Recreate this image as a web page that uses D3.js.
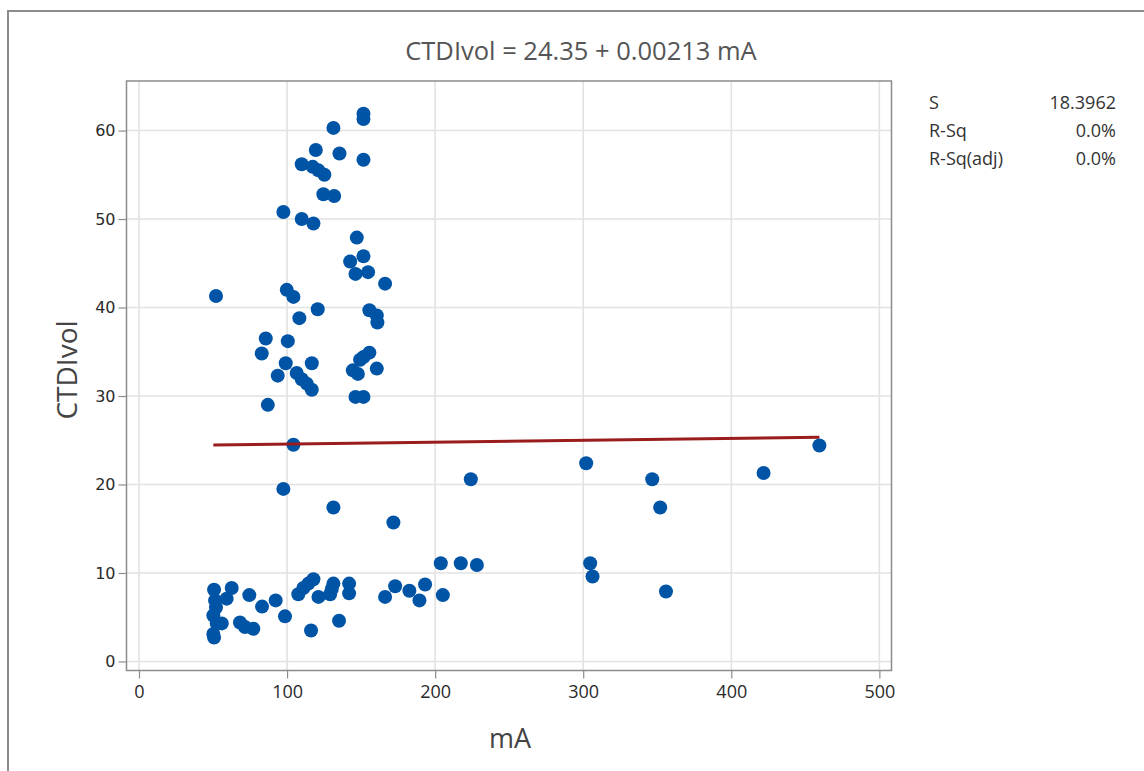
<!DOCTYPE html>
<html>
<head>
<meta charset="utf-8">
<script src="https://cdn.jsdelivr.net/npm/d3@7/dist/d3.min.js"></script>
<style>
  html, body { margin: 0; padding: 0; background: #fff; }
  svg { display: block; font-family: "Open Sans", "Noto Sans", sans-serif; }
</style>
</head>
<body>
<svg id="chart" width="1144" height="771"></svg>
<script>
// Tube current (mA) for each scan
const mA = [
  151.6, 151.6, 131.3, 119.4, 135.4, 151.6, 109.9, 117.3, 121.2, 125.2,
  124.5, 131.8, 97.5, 109.9, 117.8, 147.1, 151.6, 142.6, 146.2, 154.7,
  166.2, 52.0, 99.8, 104.3, 120.7, 108.3, 155.6, 160.6, 161.0, 85.6,
  100.5, 82.9, 99.1, 116.7, 93.7, 106.5, 109.9, 113.3, 116.7, 155.6,
  151.6, 149.3, 144.4, 147.8, 160.6, 146.2, 151.6, 87.0, 104.3, 97.5,
  131.3, 171.8, 224.1, 302.0, 346.6, 352.0, 421.8, 459.5,
  203.8, 217.3, 228.2, 304.7, 306.3, 355.9, 205.2, 193.2, 189.4, 182.6,
  173.0, 166.2, 141.9, 141.9, 131.3, 130.2, 129.1, 135.1, 117.8, 114.4,
  111.0, 107.6, 121.2, 116.2, 98.6, 92.3, 83.1, 74.5, 62.6, 59.2,
  50.7, 51.4, 52.0, 50.2, 52.5, 50.2, 50.7, 55.9, 68.2, 71.6, 77.2
];
// Measured CTDIvol (mGy) for the same scans
const ctdiVol = [
  61.9, 61.3, 60.3, 57.8, 57.4, 56.7, 56.2, 55.9, 55.5, 55.0,
  52.8, 52.6, 50.8, 50.0, 49.5, 47.9, 45.8, 45.2, 43.8, 44.0,
  42.7, 41.3, 42.0, 41.2, 39.8, 38.8, 39.7, 39.1, 38.3, 36.5,
  36.2, 34.8, 33.7, 33.7, 32.3, 32.6, 31.9, 31.4, 30.7, 34.9,
  34.4, 34.1, 32.9, 32.5, 33.1, 29.9, 29.9, 29.0, 24.5, 19.5,
  17.4, 15.7, 20.6, 22.4, 20.6, 17.4, 21.3, 24.4,
  11.1, 11.1, 10.9, 11.1, 9.6, 7.9, 7.5, 8.7, 6.9, 8.0,
  8.5, 7.3, 8.8, 7.7, 8.8, 8.2, 7.6, 4.6, 9.3, 8.8,
  8.3, 7.6, 7.3, 3.5, 5.1, 6.9, 6.2, 7.5, 8.3, 7.1,
  8.1, 6.9, 6.1, 5.2, 4.3, 3.1, 2.7, 4.3, 4.4, 3.9, 3.7
];

// Fitted line: CTDIvol = intercept + slope * mA
const fitCoef = [24.35, 0.00213];

const xTicks = [0, 100, 200, 300, 400, 500];
const yTicks = [0, 10, 20, 30, 40, 50, 60];

const statNames = ["S", "R-Sq", "R-Sq(adj)"];
const statValues = ["18.3962", "0.0%", "0.0%"];

const svg = d3.select("#chart");

// Plot frame
const plotL = 126.5, plotR = 891.5, plotT = 81, plotB = 670.5;

const x = d3.scaleLinear().domain([-8.44, 508.2]).range([plotL, plotR]);
const y = d3.scaleLinear().domain([-1.02, 65.6]).range([plotB, plotT]);

// Outer panel border
svg.append("path")
  .attr("d", `M8,771 V11 H1144`)
  .attr("fill", "none")
  .attr("stroke", "#8c8c8c")
  .attr("stroke-width", 2);

// Gridlines
const grid = svg.append("g");
grid.selectAll("line.vx").data(xTicks).join("line")
  .attr("class", "vx")
  .attr("x1", d => x(d)).attr("x2", d => x(d))
  .attr("y1", plotT).attr("y2", plotB)
  .attr("stroke", "#e2e2e2").attr("stroke-width", 1.6);
grid.selectAll("line.hy").data(yTicks).join("line")
  .attr("class", "hy")
  .attr("x1", plotL).attr("x2", plotR)
  .attr("y1", d => y(d)).attr("y2", d => y(d))
  .attr("stroke", "#e2e2e2").attr("stroke-width", 1.6);

// Axes
const xAxis = svg.append("g")
  .attr("transform", `translate(0,${plotB})`)
  .call(d3.axisBottom(x).tickValues(xTicks).tickSize(8).tickPadding(7).tickSizeOuter(0));
const yAxis = svg.append("g")
  .attr("transform", `translate(${plotL},0)`)
  .call(d3.axisLeft(y).tickValues(yTicks).tickSize(8).tickPadding(3).tickSizeOuter(0));
[xAxis, yAxis].forEach(g => {
  g.select(".domain").remove();
  g.selectAll(".tick line").attr("stroke", "#8c8c8c").attr("stroke-width", 1.2);
  g.selectAll(".tick text").attr("fill", "#2a2a2a");
});
xAxis.selectAll(".tick text")
  .style("font-size", "18px")
  .style("font-family", "'Open Sans', sans-serif");
yAxis.selectAll(".tick text")
  .style("font-size", "16px")
  .style("font-family", "'DejaVu Sans', sans-serif");

// Frame
svg.append("rect")
  .attr("x", plotL).attr("y", plotT)
  .attr("width", plotR - plotL).attr("height", plotB - plotT)
  .attr("fill", "none")
  .attr("stroke", "#8c8c8c")
  .attr("stroke-width", 1.5);

// Data points
const pts = mA.map((v, i) => ({ x: v, y: ctdiVol[i] }));
svg.append("g").selectAll("circle").data(pts).join("circle")
  .attr("cx", d => x(d.x))
  .attr("cy", d => y(d.y))
  .attr("r", 7)
  .attr("fill", "#0054a6");

// Regression line across the observed mA range
const xExt = d3.extent(mA);
const fit = v => fitCoef[0] + fitCoef[1] * v;
svg.append("line")
  .attr("x1", x(xExt[0])).attr("y1", y(fit(xExt[0])))
  .attr("x2", x(xExt[1])).attr("y2", y(fit(xExt[1])))
  .attr("stroke", "#9a1c1c")
  .attr("stroke-width", 3);

// Title
svg.append("text")
  .attr("x", 581).attr("y", 50)
  .attr("text-anchor", "middle").attr("dominant-baseline", "central")
  .attr("fill", "#555")
  .style("font-size", "25.5px")
  .text(`CTDIvol = ${fitCoef[0]} + ${fitCoef[1]} mA`);

// Axis titles
svg.append("text")
  .attr("x", 510).attr("y", 737)
  .attr("text-anchor", "middle").attr("dominant-baseline", "central")
  .attr("fill", "#444")
  .style("font-size", "27px")
  .text("mA");
svg.append("text")
  .attr("transform", "translate(66,370) rotate(-90)")
  .attr("text-anchor", "middle").attr("dominant-baseline", "central")
  .attr("fill", "#444")
  .style("font-size", "28px")
  .text("CTDIvol");

// Model summary
const stats = svg.append("g").style("font-size", "18px").attr("fill", "#333");
statNames.forEach((n, i) => {
  const yy = 102 + i * 28;
  stats.append("text").attr("x", 929).attr("y", yy)
    .attr("dominant-baseline", "central").text(n);
  stats.append("text").attr("x", 1116).attr("y", yy)
    .attr("text-anchor", "end").attr("dominant-baseline", "central")
    .text(statValues[i]);
});
</script>
</body>
</html>
